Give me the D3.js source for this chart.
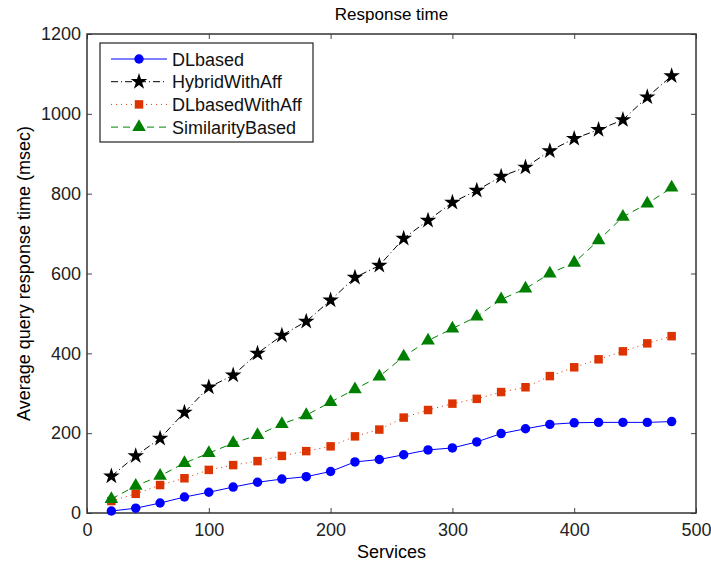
<!DOCTYPE html>
<html>
<head>
<meta charset="utf-8">
<script src="https://cdn.jsdelivr.net/npm/d3@7"></script>
<style>
  body { margin: 0; background: #fff; }
  svg { font-family: "Liberation Sans", Arial, sans-serif; }
</style>
</head>
<body>
<div id="chart"></div>
<script>
// services (x values)
var services = [20, 40, 60, 80, 100, 120, 140, 160, 180, 200, 220, 240,
                260, 280, 300, 320, 340, 360, 380, 400, 420, 440, 460, 480];

var dlBased = [5, 12, 25, 40, 52, 65, 77, 85, 91, 104, 128, 134,
               146, 158, 163, 178, 199, 211, 222, 226, 227, 227, 227, 229];
var hybridWithAff = [92, 143, 187, 252, 315, 345, 400, 445, 480, 533, 590, 620,
                     688, 733, 778, 808, 843, 866, 907, 938, 960, 985, 1042, 1095];
var dlBasedWithAff = [30, 48, 70, 87, 108, 120, 130, 143, 155, 167, 192, 209,
                      239, 258, 274, 286, 303, 315, 343, 365, 385, 405, 425, 443];
var similarityBased = [35, 68, 93, 125, 150, 175, 195, 223, 245, 278, 310, 342,
                       392, 432, 462, 492, 535, 562, 600, 627, 683, 742, 775, 815];

var xTicks = [0, 100, 200, 300, 400, 500];
var yTicks = [0, 200, 400, 600, 800, 1000, 1200];

var series = [
  { name: "DLbased", values: dlBased, color: "#0000ff", dash: null, marker: "circle" },
  { name: "HybridWithAff", values: hybridWithAff, color: "#000000", dash: "7,3,1,3", marker: "star" },
  { name: "DLbasedWithAff", values: dlBasedWithAff, color: "#dd3300", dash: "1,4", marker: "square" },
  { name: "SimilarityBased", values: similarityBased, color: "#008000", dash: "7,5", marker: "triangle" }
];

var W = 711, H = 562;
var margin = { left: 87, right: 15, top: 34, bottom: 49 };
var fs = "18px";

var svg = d3.select("#chart").append("svg")
    .attr("width", W)
    .attr("height", H);

var x = d3.scaleLinear().domain([0, 500]).range([margin.left, W - margin.right]);
var y = d3.scaleLinear().domain([0, 1200]).range([H - margin.bottom, margin.top]);

// axes with inward ticks on all four sides
function styleAxis(g) {
  g.select(".domain").remove();
  g.selectAll(".tick line").attr("stroke", "#444");
  g.selectAll(".tick text").attr("fill", "#222").style("font-size", fs);
}

svg.append("g")
    .attr("transform", "translate(0," + y(0) + ")")
    .call(d3.axisBottom(x).tickValues(xTicks).tickFormat(d3.format("d"))
      .tickSizeInner(-5).tickSizeOuter(0).tickPadding(10))
    .call(styleAxis);
svg.append("g")
    .attr("transform", "translate(0," + y(1200) + ")")
    .call(d3.axisTop(x).tickValues(xTicks).tickSizeInner(-5).tickSizeOuter(0).tickFormat(""))
    .call(styleAxis);
svg.append("g")
    .attr("transform", "translate(" + x(0) + ",0)")
    .call(d3.axisLeft(y).tickValues(yTicks).tickFormat(d3.format("d"))
      .tickSizeInner(-5).tickSizeOuter(0).tickPadding(6))
    .call(styleAxis);
svg.append("g")
    .attr("transform", "translate(" + x(500) + ",0)")
    .call(d3.axisRight(y).tickValues(yTicks).tickSizeInner(-5).tickSizeOuter(0).tickFormat(""))
    .call(styleAxis);

// plot box
svg.append("rect")
    .attr("x", x(0)).attr("y", y(1200))
    .attr("width", x(500) - x(0)).attr("height", y(0) - y(1200))
    .attr("fill", "none").attr("stroke", "#333").attr("stroke-width", 1.5);

// marker shapes
var symbolFor = {
  circle: d3.symbol().type(d3.symbolCircle).size(70),
  star: d3.symbol().type(d3.symbolStar).size(85),
  square: d3.symbol().type(d3.symbolSquare).size(72),
  triangle: d3.symbol().type(d3.symbolTriangle).size(80)
};

var line = d3.line()
    .x(function(d) { return x(d[0]); })
    .y(function(d) { return y(d[1]); });

series.forEach(function(s) {
  var pts = services.map(function(v, i) { return [v, s.values[i]]; });
  var g = svg.append("g");
  g.append("path")
      .datum(pts)
      .attr("d", line)
      .attr("fill", "none")
      .attr("stroke", s.color)
      .attr("stroke-width", 1)
      .attr("stroke-dasharray", s.dash);
  g.selectAll("path.mk")
      .data(pts)
      .enter()
      .append("path")
      .attr("class", "mk")
      .attr("transform", function(d) { return "translate(" + x(d[0]) + "," + y(d[1]) + ")"; })
      .attr("d", symbolFor[s.marker])
      .attr("fill", s.color);
});

// legend
var leg = svg.append("g");
leg.append("rect")
    .attr("x", 100).attr("y", 43)
    .attr("width", 213).attr("height", 99)
    .attr("fill", "#fff").attr("stroke", "#222").attr("stroke-width", 1.2);

series.forEach(function(s, i) {
  var ly = 59 + i * 22.7;
  leg.append("line")
      .attr("x1", 111).attr("x2", 167)
      .attr("y1", ly).attr("y2", ly)
      .attr("stroke", s.color)
      .attr("stroke-width", 1)
      .attr("stroke-dasharray", s.dash);
  leg.append("path")
      .attr("transform", "translate(139," + ly + ")")
      .attr("d", symbolFor[s.marker])
      .attr("fill", s.color);
  leg.append("text")
      .attr("x", 172).attr("y", ly + 6.5)
      .style("font-size", fs)
      .attr("fill", "#111")
      .text(s.name);
});

// labels
svg.append("text")
    .attr("x", (x(0) + x(500)) / 2).attr("y", 20)
    .attr("text-anchor", "middle")
    .style("font-size", "17px")
    .text("Response time");

svg.append("text")
    .attr("x", (x(0) + x(500)) / 2).attr("y", 558)
    .attr("text-anchor", "middle")
    .style("font-size", fs)
    .text("Services");

svg.append("text")
    .attr("transform", "translate(30," + ((y(0) + y(1200)) / 2) + ") rotate(-90)")
    .attr("text-anchor", "middle")
    .style("font-size", fs)
    .text("Average query response time (msec)");
</script>
</body>
</html>
